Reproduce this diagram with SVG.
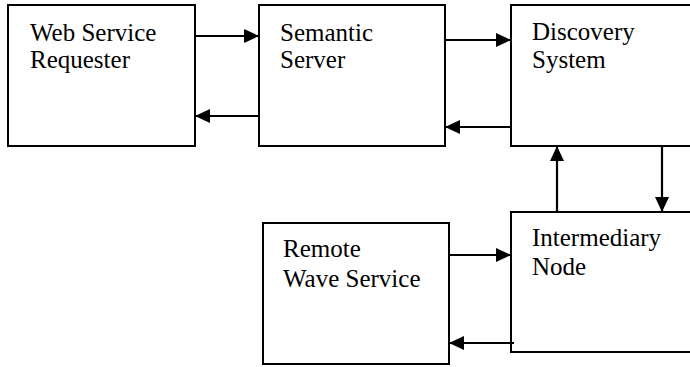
<svg xmlns="http://www.w3.org/2000/svg" width="690" height="367" viewBox="0 0 690 367">
<defs>
<style>
.box{fill:#fff;stroke:#000;stroke-width:2}
.lbl{font-family:"Liberation Serif","Times New Roman",serif;font-size:25px;fill:#000}
.con{stroke:#000;stroke-width:2.2;fill:none;marker-end:url(#ah)}
</style>
<marker id="ah" markerUnits="userSpaceOnUse" markerWidth="16" markerHeight="14" refX="15" refY="7" orient="auto">
<path d="M0,0 L15,7 L0,14 Z" fill="#000"/>
</marker>
</defs>
<rect width="690" height="367" fill="#fff"/>
<g id="requester">
<rect class="box" x="8" y="5" width="187" height="141"/>
<text class="lbl" x="30" y="41">Web Service</text>
<text class="lbl" x="30" y="68">Requester</text>
</g>
<g id="semantic">
<rect class="box" x="259" y="5" width="186" height="141"/>
<text class="lbl" x="280" y="41">Semantic</text>
<text class="lbl" x="280" y="68">Server</text>
</g>
<g id="discovery">
<rect class="box" x="511" y="5" width="190" height="141"/>
<text class="lbl" x="532" y="40">Discovery</text>
<text class="lbl" x="532" y="68">System</text>
</g>
<g id="intermediary">
<rect class="box" x="511" y="212" width="190" height="140"/>
<text class="lbl" x="532" y="246">Intermediary</text>
<text class="lbl" x="532" y="275">Node</text>
</g>
<g id="remote">
<rect class="box" x="263" y="223" width="186" height="141"/>
<text class="lbl" x="283" y="257">Remote</text>
<text class="lbl" x="283" y="287">Wave Service</text>
</g>
<g id="connectors">
<line class="con" x1="195" y1="36" x2="259" y2="36"/>
<line class="con" x1="259" y1="116" x2="195" y2="116"/>
<line class="con" x1="445" y1="40" x2="511" y2="40"/>
<line class="con" x1="511" y1="127" x2="445" y2="127"/>
<line class="con" x1="557" y1="212" x2="557" y2="146"/>
<line class="con" x1="662" y1="146" x2="662" y2="212"/>
<line class="con" x1="449" y1="255" x2="511" y2="255"/>
<line class="con" x1="514" y1="343" x2="449" y2="343"/>
</g>
</svg>
